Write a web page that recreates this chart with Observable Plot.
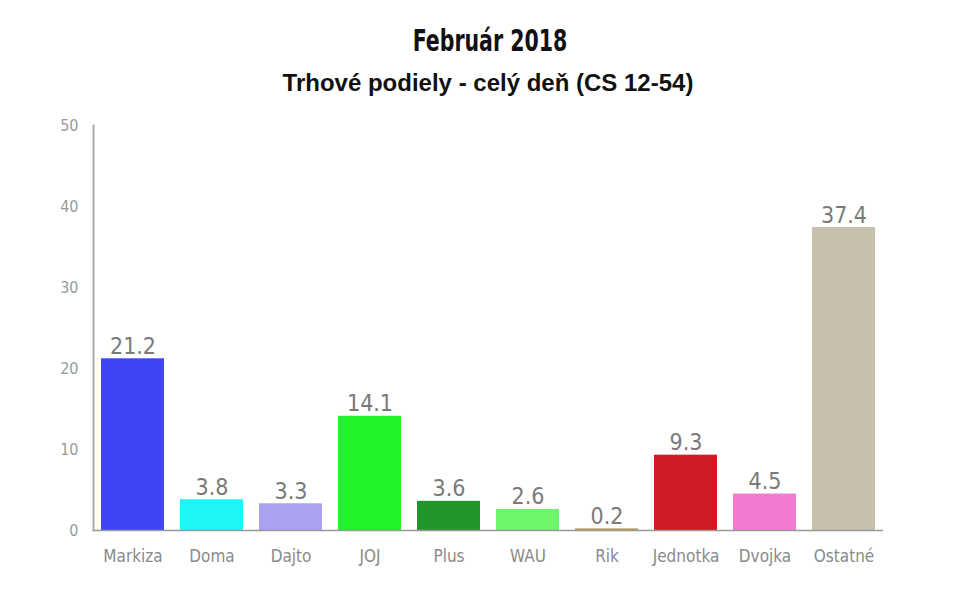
<!DOCTYPE html>
<html>
<head>
<meta charset="utf-8">
<script src="https://cdn.jsdelivr.net/npm/d3@7"></script>
<script src="https://cdn.jsdelivr.net/npm/@observablehq/plot@0.6"></script>
<style>
  body { margin: 0; background: #fff; width: 959px; height: 589px; overflow: hidden; }
  #title { position: absolute; left: 0; width: 980px; top: 21px; text-align: center;
    font-family: "DejaVu Sans Condensed", "DejaVu Sans", sans-serif; font-size: 30px; font-weight: bold; color: #111; line-height: 40px;
    transform: scaleX(0.76); transform-origin: 490px 0; }
  #subtitle { position: absolute; left: 0; width: 976px; top: 68px; text-align: center;
    font-family: "Liberation Sans", Arial, sans-serif; font-size: 24px; font-weight: bold; color: #111; line-height: 30px; }
  #chart { position: absolute; left: 0; top: 100px; }
</style>
</head>
<body>
<div id="title">Február 2018</div>
<div id="subtitle">Trhové podiely - celý deň (CS 12-54)</div>
<div id="chart"></div>
<script>
const channels = ["Markiza", "Doma", "Dajto", "JOJ", "Plus", "WAU", "Rik", "Jednotka", "Dvojka", "Ostatné"];
const shares = [21.2, 3.8, 3.3, 14.1, 3.6, 2.6, 0.2, 9.3, 4.5, 37.4];
const colors = ["#3f44f7", "#1cf6f6", "#a9a2f1", "#20f52a", "#23962a", "#6cf66a", "#b89a5a", "#d01b25", "#f27ad2", "#c6c1ac"];
const yTicks = [0, 10, 20, 30, 40, 50];

const data = channels.map((c, i) => ({channel: c, value: shares[i], color: colors[i]}));
const font = "'DejaVu Sans Condensed', 'DejaVu Sans', sans-serif";

const chart = Plot.plot({
  width: 959,
  height: 489,
  marginTop: 25,
  marginBottom: 59,
  marginLeft: 93,
  marginRight: 76,
  style: {fontFamily: font, background: "#fff"},
  x: {domain: channels, paddingInner: 0.2, paddingOuter: 0.1, label: null},
  y: {domain: [0, 50], label: null},
  marks: [
    Plot.axisY({ticks: yTicks, tickSize: 0, tickPadding: 15, fontSize: 16, fill: "#9a9a9a", label: null}),
    Plot.axisX({tickSize: 0, tickPadding: 19, fontSize: 17, fill: "#8a8a8a", label: null}),
    Plot.barY(data, {x: "channel", y: "value", fill: "color"}),
    Plot.frame({anchor: "left", stroke: "#aaaaaa", strokeWidth: 2}),
    Plot.ruleY([0], {stroke: "#999999", strokeWidth: 1.5}),
    Plot.text(data, {x: "channel", y: "value", text: d => d.value.toFixed(1), lineAnchor: "bottom", dy: -5, fontSize: 23, fill: "#7a7a7a"})
  ]
});
document.getElementById("chart").appendChild(chart);
</script>
</body>
</html>
